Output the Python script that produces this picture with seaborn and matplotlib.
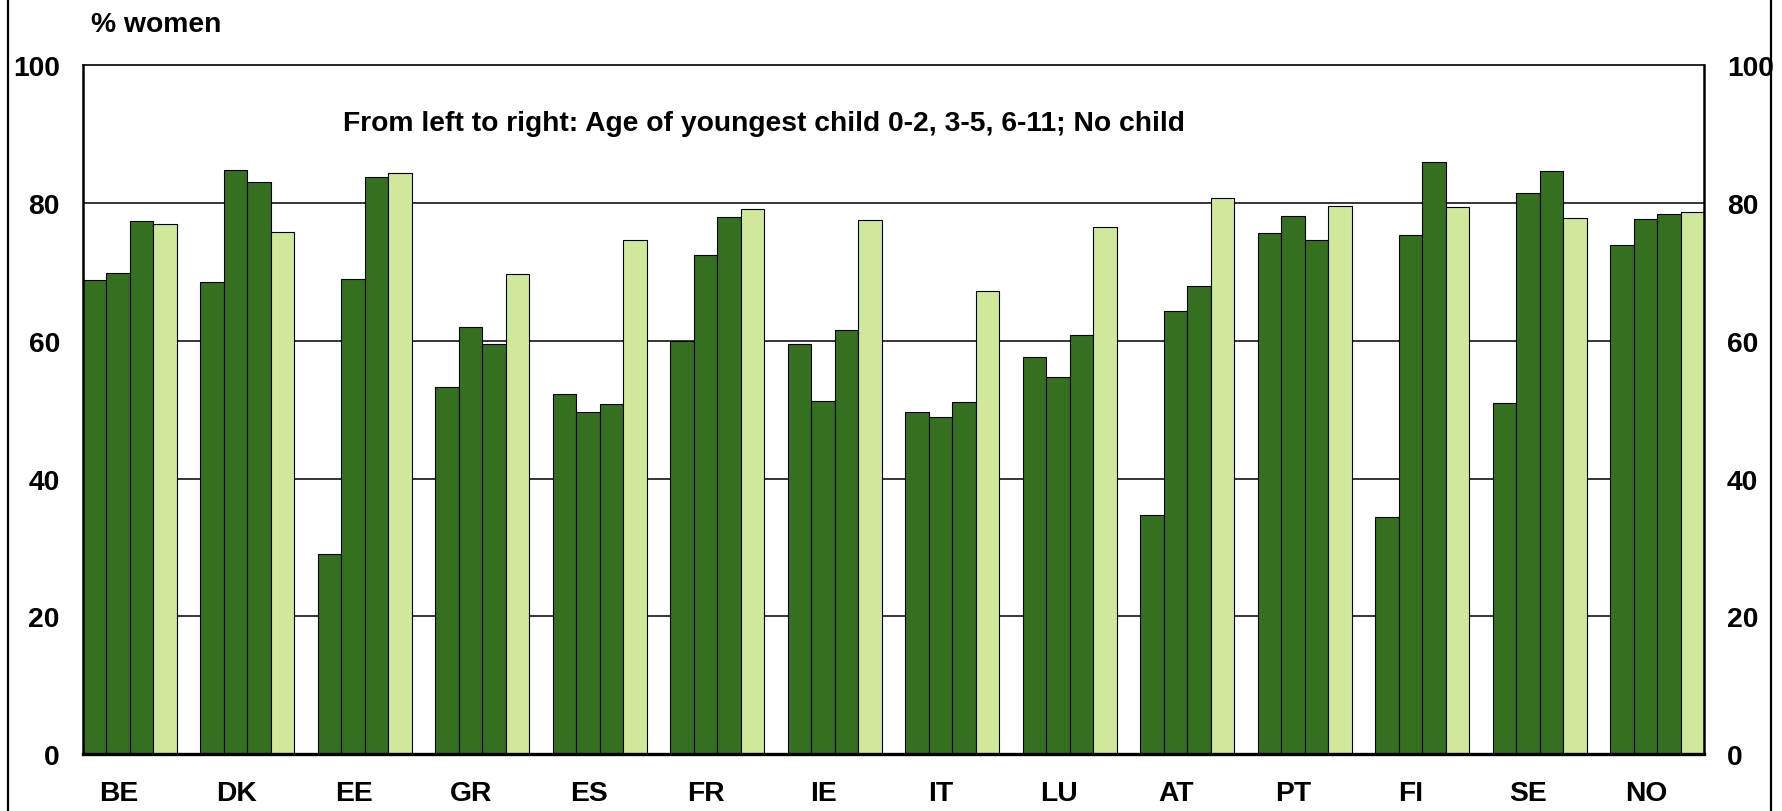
import matplotlib
matplotlib.use("Agg")
import matplotlib.pyplot as plt
import matplotlib.transforms as mtransforms
from matplotlib.lines import Line2D
import seaborn as sns
import pandas as pd

# ---- data ----
countries = ["BE", "DK", "EE", "GR", "ES", "FR", "IE", "IT", "LU", "AT", "PT", "FI", "SE", "NO"]
age_0_2 = [68.8, 68.6, 29.0, 53.3, 52.3, 60.0, 59.5, 49.7, 57.6, 34.7, 75.6, 34.4, 50.9, 73.9]
age_3_5 = [69.8, 84.8, 69.0, 62.0, 49.7, 72.5, 51.2, 48.9, 54.7, 64.3, 78.1, 75.3, 81.5, 77.7]
age_6_11 = [77.4, 83.1, 83.8, 59.5, 50.8, 78.0, 61.5, 51.1, 60.9, 67.9, 74.7, 86.0, 84.6, 78.4]
no_child = [76.9, 75.8, 84.4, 69.7, 74.6, 79.2, 77.5, 67.3, 76.5, 80.8, 79.6, 79.4, 77.8, 78.7]
groups = ["0-2", "3-5", "6-11", "No child"]
yticks = [0, 20, 40, 60, 80, 100]
ylabel_text = "% women"
note_text = "From left to right: Age of youngest child 0-2, 3-5, 6-11; No child"

series = {"0-2": age_0_2, "3-5": age_3_5, "6-11": age_6_11, "No child": no_child}
rows = []
for g in groups:
    for c, v in zip(countries, series[g]):
        rows.append({"country": c, "group": g, "value": v})
df = pd.DataFrame(rows)

DARK = "#347020"
LIGHT = "#D0E89A"
palette = {"0-2": DARK, "3-5": DARK, "6-11": DARK, "No child": LIGHT}

sns.set_style("white")
plt.rcParams["font.family"] = ["Liberation Sans", "DejaVu Sans"]
plt.rcParams["font.weight"] = "bold"
for k in ["text.color", "xtick.color", "ytick.color", "axes.labelcolor", "axes.edgecolor"]:
    plt.rcParams[k] = "black"

FS = 20.3
W, H = 1782, 812
fig = plt.figure(figsize=(W / 100, H / 100), dpi=100)
L, R, T, B = 82.7, 1704, 66.3, 755
ax = fig.add_axes([L / W, 1 - B / H, (R - L) / W, (B - T) / H])

sns.barplot(data=df, x="country", y="value", hue="group", order=countries,
            hue_order=groups, palette=palette, width=0.8, edgecolor="black",
            linewidth=0.8, saturation=1, legend=False, ax=ax, zorder=3)

ax.set_xlim(-0.4, len(countries) - 0.6)
ax.set_ylim(0, 100)
ax.set_yticks(yticks)
ax.set_yticklabels([str(t) for t in yticks])
ax.set_xlabel("")
ax.set_ylabel("")
ax.grid(False)
for t in yticks[1:-1]:
    ax.axhline(t, color="black", lw=1.1, zorder=1)

ax.tick_params(axis="y", which="both", length=0, labelsize=FS, pad=16.5,
               labelleft=True, labelright=True, colors="black")
ax.tick_params(axis="x", length=0, labelsize=FS, pad=19, colors="black")
for lab in ax.get_xticklabels() + ax.get_yticklabels():
    lab.set_fontweight("bold")
offset = mtransforms.ScaledTranslation(-11 / 100, 0, fig.dpi_scale_trans)
for lab in ax.get_xticklabels():
    lab.set_transform(lab.get_transform() + offset)

for side, lw in [("left", 1.8), ("bottom", 2.4), ("top", 1.2), ("right", 1.8)]:
    ax.spines[side].set_visible(True)
    ax.spines[side].set_color("black")
    ax.spines[side].set_linewidth(lw)
    ax.spines[side].set_zorder(5)

fig.text(91 / W, 1 - 32.3 / H, ylabel_text, fontsize=FS, fontweight="bold",
         ha="left", va="baseline", color="black")
fig.text(343 / W, 1 - 131 / H, note_text, fontsize=FS, fontweight="bold",
         ha="left", va="baseline", color="black")

for xp in [7.5, 1771]:
    fig.add_artist(Line2D([xp / W, xp / W], [0, 1], transform=fig.transFigure,
                          color="black", lw=1.6))

fig.savefig("out.png", dpi=100, facecolor="white")
